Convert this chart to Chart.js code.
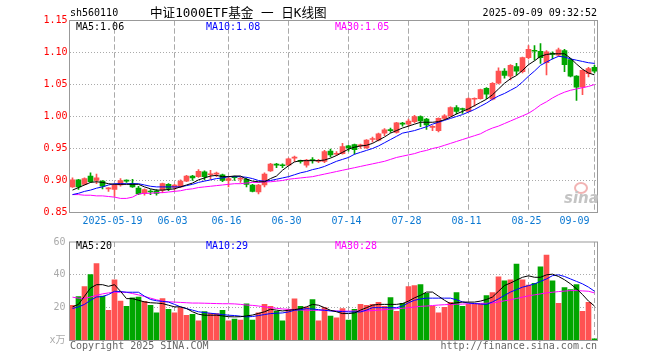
<!DOCTYPE html>
<html><head><meta charset="utf-8">
<script src="https://cdn.jsdelivr.net/npm/chart.js@4/dist/chart.umd.min.js"></script>
<style>
html,body{margin:0;padding:0;background:#fff;}
#wrap{position:relative;width:660px;height:360px;overflow:hidden;background:#fff;}
canvas{position:absolute;left:0;}
.t{position:absolute;white-space:pre;font-family:'DejaVu Sans Mono',monospace;font-size:10px;line-height:12px;}
</style></head><body>
<div id="wrap">
<canvas id="price" width="660" height="232" style="top:0"></canvas>
<canvas id="vol" width="660" height="128" style="top:232px"></canvas>
<div class="t" style="left:70px;top:7px;color:#000">sh560110</div>
<div class="t" style="left:150px;top:4px;font-family:'DejaVu Sans Mono','Noto Sans CJK SC',sans-serif;font-size:12.6px;line-height:17px;color:#000">中证1000ETF基金 一 日K线图</div>
<div class="t" style="right:63px;top:7px;color:#000">2025-09-09 09:32:52</div>
<div class="t" style="left:76px;top:21px;color:#000">MA5:1.06</div>
<div class="t" style="left:206px;top:21px;color:#0000ff">MA10:1.08</div>
<div class="t" style="left:335px;top:21px;color:#ff00ff">MA30:1.05</div>
<div class="t" style="left:76px;top:240px;color:#000">MA5:20</div>
<div class="t" style="left:206px;top:240px;color:#0000ff">MA10:29</div>
<div class="t" style="left:335px;top:240px;color:#ff00ff">MA30:28</div>
<div class="t" style="left:70px;top:340px;color:#666">Copyright 2025 SINA.COM</div>
<div class="t" style="right:63px;top:340px;color:#666">http://finance.sina.com.cn</div>
<div style="position:absolute;left:574px;top:182px;width:10px;height:8px;border-radius:50%;border:2px solid #f2b4b4;"></div>
<div class="t" style="left:564px;top:190px;font-family:'DejaVu Sans',sans-serif;font-style:italic;font-weight:bold;font-size:15px;line-height:16px;color:#c4c4c4">sina</div>
</div>
<script>
const dates = ['2025-05-08','2025-05-09','2025-05-12','2025-05-13','2025-05-14','2025-05-15','2025-05-16','2025-05-19','2025-05-20','2025-05-21','2025-05-22','2025-05-23','2025-05-26','2025-05-27','2025-05-28','2025-05-29','2025-05-30','2025-06-03','2025-06-04','2025-06-05','2025-06-06','2025-06-09','2025-06-10','2025-06-11','2025-06-12','2025-06-13','2025-06-16','2025-06-17','2025-06-18','2025-06-19','2025-06-20','2025-06-23','2025-06-24','2025-06-25','2025-06-26','2025-06-27','2025-06-30','2025-07-01','2025-07-02','2025-07-03','2025-07-04','2025-07-07','2025-07-08','2025-07-09','2025-07-10','2025-07-11','2025-07-14','2025-07-15','2025-07-16','2025-07-17','2025-07-18','2025-07-21','2025-07-22','2025-07-23','2025-07-24','2025-07-25','2025-07-28','2025-07-29','2025-07-30','2025-07-31','2025-08-01','2025-08-04','2025-08-05','2025-08-06','2025-08-07','2025-08-08','2025-08-11','2025-08-12','2025-08-13','2025-08-14','2025-08-15','2025-08-18','2025-08-19','2025-08-20','2025-08-21','2025-08-22','2025-08-25','2025-08-26','2025-08-27','2025-08-28','2025-08-29','2025-09-01','2025-09-02','2025-09-03','2025-09-04','2025-09-05','2025-09-08','2025-09-09'];

const opens  = [0.890,0.901,0.894,0.907,0.900,0.899,0.887,0.886,0.893,0.900,0.895,0.888,0.880,0.8825,0.884,0.885,0.894,0.889,0.890,0.899,0.907,0.906,0.9135,0.909,0.910,0.909,0.900,0.905,0.902,0.902,0.893,0.882,0.893,0.915,0.925,0.924,0.924,0.935,0.931,0.924,0.932,0.930,0.930,0.946,0.941,0.942,0.954,0.956,0.954,0.951,0.964,0.963,0.974,0.979,0.975,0.989,0.988,0.992,1.000,0.996,0.983,0.978,0.997,1.001,1.014,1.012,1.008,1.027,1.028,1.044,1.027,1.052,1.071,1.063,1.078,1.070,1.092,1.103,1.102,1.084,1.098,1.096,1.103,1.089,1.063,1.046,1.067,1.077];
const closes = [0.901,0.890,0.903,0.898,0.904,0.891,0.8875,0.893,0.900,0.899,0.890,0.879,0.886,0.882,0.880,0.895,0.8875,0.893,0.899,0.907,0.904,0.9145,0.906,0.910,0.911,0.900,0.903,0.9045,0.903,0.894,0.883,0.893,0.910,0.9255,0.924,0.923,0.934,0.936,0.930,0.932,0.931,0.931,0.945,0.940,0.942,0.953,0.951,0.948,0.955,0.963,0.965,0.973,0.979,0.978,0.990,0.988,0.993,1.000,0.993,0.987,0.984,0.997,1.001,1.014,1.008,1.011,1.028,1.028,1.042,1.035,1.052,1.071,1.064,1.080,1.071,1.092,1.105,1.102,1.092,1.101,1.097,1.104,1.081,1.063,1.046,1.072,1.075,1.071];
const highs  = [0.904,0.902,0.904,0.912,0.910,0.900,0.889,0.894,0.903,0.901,0.902,0.891,0.887,0.886,0.886,0.896,0.895,0.894,0.901,0.908,0.908,0.917,0.915,0.916,0.913,0.910,0.906,0.907,0.905,0.904,0.894,0.894,0.912,0.927,0.927,0.926,0.935,0.938,0.932,0.933,0.936,0.933,0.947,0.949,0.945,0.958,0.955,0.957,0.957,0.964,0.968,0.974,0.981,0.982,0.991,0.991,0.996,1.002,1.001,0.997,0.986,0.998,1.003,1.015,1.017,1.013,1.029,1.029,1.043,1.045,1.053,1.076,1.075,1.081,1.083,1.093,1.111,1.111,1.114,1.103,1.101,1.107,1.105,1.091,1.064,1.073,1.077,1.080];
const lows   = [0.889,0.886,0.893,0.897,0.895,0.887,0.883,0.875,0.891,0.897,0.889,0.878,0.877,0.878,0.877,0.881,0.884,0.885,0.889,0.898,0.900,0.905,0.901,0.902,0.906,0.898,0.890,0.900,0.897,0.890,0.882,0.879,0.890,0.914,0.920,0.920,0.923,0.930,0.927,0.921,0.927,0.928,0.928,0.937,0.939,0.941,0.946,0.941,0.950,0.950,0.960,0.962,0.970,0.975,0.974,0.985,0.985,0.990,0.984,0.980,0.978,0.976,0.995,1.000,1.004,1.005,1.007,1.016,1.027,1.028,1.026,1.051,1.060,1.057,1.065,1.068,1.090,1.088,1.083,1.065,1.090,1.094,1.070,1.062,1.025,1.034,1.062,1.068];

const ma5  = [0.885,0.889,0.893,0.897,0.898,0.897,0.895,0.894,0.894,0.894,0.894,0.894,0.890,0.887,0.885,0.885,0.886,0.887,0.890,0.893,0.896,0.901,0.904,0.907,0.908,0.906,0.906,0.907,0.907,0.902,0.899,0.898,0.898,0.903,0.907,0.916,0.923,0.929,0.931,0.931,0.931,0.931,0.932,0.935,0.939,0.944,0.949,0.952,0.954,0.955,0.958,0.963,0.968,0.974,0.978,0.982,0.985,0.988,0.991,0.991,0.991,0.992,0.995,0.999,1.004,1.008,1.012,1.017,1.022,1.027,1.034,1.043,1.052,1.059,1.064,1.072,1.081,1.087,1.094,1.097,1.098,1.098,1.098,1.091,1.082,1.074,1.068,1.065];
const ma10 = [0.878,0.880,0.883,0.885,0.888,0.890,0.893,0.895,0.895,0.895,0.895,0.895,0.893,0.891,0.890,0.890,0.890,0.890,0.890,0.892,0.894,0.897,0.899,0.901,0.903,0.904,0.906,0.906,0.906,0.905,0.903,0.900,0.899,0.900,0.902,0.904,0.906,0.909,0.912,0.914,0.917,0.919,0.922,0.926,0.930,0.933,0.936,0.941,0.944,0.947,0.950,0.954,0.959,0.964,0.969,0.974,0.976,0.978,0.981,0.984,0.988,0.991,0.994,0.997,1.000,1.003,1.007,1.011,1.016,1.021,1.027,1.032,1.036,1.041,1.046,1.054,1.063,1.071,1.080,1.085,1.090,1.094,1.093,1.090,1.088,1.086,1.084,1.083];
const ma30 = [0.878,0.878,0.877,0.877,0.876,0.876,0.875,0.874,0.872,0.872,0.874,0.879,0.880,0.880,0.881,0.881,0.882,0.883,0.884,0.886,0.887,0.889,0.890,0.891,0.892,0.893,0.894,0.895,0.895,0.896,0.897,0.897,0.898,0.898,0.899,0.900,0.902,0.903,0.904,0.905,0.906,0.908,0.910,0.912,0.914,0.916,0.918,0.920,0.922,0.924,0.926,0.928,0.930,0.933,0.936,0.938,0.940,0.942,0.945,0.947,0.950,0.952,0.955,0.958,0.961,0.964,0.967,0.970,0.973,0.978,0.982,0.985,0.989,0.993,0.997,1.001,1.005,1.011,1.018,1.023,1.029,1.034,1.038,1.041,1.043,1.045,1.047,1.050];

const volumes = [21.4,26.8,32.8,40.2,46.8,27,18.4,37,24,20.8,26,26.4,23.8,21.4,16.8,25.6,19,16.8,20,15.4,16,12,17.6,16.6,16.4,18.4,12,13,12.4,22.4,12.4,16.8,22,20.8,17.8,12,18.8,25.4,20.8,20.4,25,12,20,14.8,13.8,19.4,12.4,19,22,21.4,22,23.2,20.8,26.2,17.8,22.6,32.8,33.4,34,28.8,20.8,16.8,20.2,23.2,29.2,20.8,22,22,22,27.4,29.2,38.8,36.4,37,46.6,37,33.8,34.8,44.8,52,36.4,22.6,32.2,31,34,17.8,23.2,1];
const volMa5  = [20.5,22,27,32,34,34,33,34,30,25.5,25.5,24.5,23.5,23,22.8,22.5,21.5,20.5,20.5,19.5,17.5,16,15.4,15.4,15.4,15,14.5,14.4,14.5,15,15.5,16.5,17.5,19,18.5,18,18.4,18.8,19.4,20.5,22,21.5,20,18.4,17.5,16.4,16.4,16.8,18.5,20,21.5,22,22,22,22,22.5,24,26,27.5,29.5,29.5,27,24.5,22.4,23,23.4,23.4,23.4,24,25,26.5,30,33.5,35,36.8,38.5,39.4,38.5,38.5,40,40.4,39,37,34.5,31.5,28,24,21];
const volMa10 = [19.5,20.5,22,24.5,26.5,26.8,28,30,29.8,29.4,29.4,29.4,27,25,24.2,23.8,23.4,22,20.5,19.4,18.5,17.5,17,16.6,16.2,15.8,15.4,15.2,14.8,14.4,14.6,15.2,15.8,16.4,16.6,16.8,17.4,18.4,18.8,19.4,19.2,18.8,18.4,18,17.8,17.6,17.4,17.4,17.4,18.5,20,20,20,20,20,21,23,24.5,25.3,25.8,25.8,25.8,25.8,25.8,24.8,23.5,22.8,22.5,22.2,22,23.5,25.4,27.5,29.5,31,32.5,33.4,34.5,36,37.5,39.5,40,39,37.5,36,34.5,32.5,30];
const volMa30 = [26.4,25.8,25.6,26.5,27.5,28.4,29,29.4,29.4,29.4,28.6,27.8,26.8,25.8,24.8,24,23.6,23.4,23.2,23,22.8,22.8,22.7,22.6,22.5,22.4,22.4,22.3,22,21.6,21.4,21,20.5,20,19.6,19.2,19,18.8,18.6,18.4,18.4,18.4,18.4,18.2,18,17.9,17.9,18,18,18,18.2,18.5,18.8,19.1,19.4,19.6,20,20.4,20.8,21,21.3,21.6,21.8,22,22.1,22.2,22.4,22.5,22.6,22.7,22.8,23.5,24.2,24.8,25.6,26.4,27.2,27.8,28.4,29,29.4,29.8,30.1,30.4,30.4,30.2,30,29];

const tickDates = ['2025-05-19','2025-06-03','2025-06-16','2025-06-30','2025-07-14','2025-07-28','2025-08-11','2025-08-25','2025-09-09'];
const tickText  = ['2025-05-19','06-03','06-16','06-30','07-14','07-28','08-11','08-25','09-09      '];
const priceRange = [0.85, 1.15];
const volRange = [0, 60];

const UP = '#ff5252', DOWN = '#00a600';
const candleColors = closes.map((c, i) => c >= opens[i] ? UP : DOWN);
const bodies = opens.map((o, i) => [o, closes[i]]);
const wicks = lows.map((l, i) => [l, highs[i]]);

const MONO = "'DejaVu Sans Mono', 'Noto Sans CJK SC', monospace";
const labelAt = v => { const k = tickDates.indexOf(dates[v]); return k < 0 ? '' : tickText[k]; };
const keepDateTicks = axis => { axis.ticks = axis.ticks.filter(t => tickDates.includes(dates[t.value])); };

// vertical dashed date grid drawn as a library line dataset (one broken line through the tick dates)
const dateGrid = (lo, hi) => ({
  type: 'line',
  data: tickDates.flatMap(d => [{ x: d, y: hi }, { x: d, y: lo }, { x: d, y: null }]),
  borderColor: '#aaaaaa', borderWidth: 1, borderDash: [5, 3], pointRadius: 0, spanGaps: false, fill: false, order: 9
});

const framePlugin = {
  id: 'frame',
  afterDraw(chart) {
    const { ctx, chartArea: a } = chart;
    ctx.save();
    ctx.strokeStyle = '#999999';
    ctx.lineWidth = 1;
    ctx.strokeRect(a.left, a.top, a.right - a.left, a.bottom - a.top);
    ctx.restore();
  }
};

const lineDs = (data, color) => ({ type: 'line', data, borderColor: color, borderWidth: 1, pointRadius: 0, tension: 0, fill: false, order: 0 });

new Chart(document.getElementById('price'), {
  type: 'bar',
  data: {
    labels: dates,
    datasets: [
      lineDs(ma5, '#000000'),
      lineDs(ma10, '#0000ff'),
      lineDs(ma30, '#ff00ff'),
      { data: bodies, backgroundColor: candleColors, borderWidth: 0, barThickness: 5, minBarLength: 1, grouped: false, order: 1 },
      { data: wicks, backgroundColor: candleColors, borderWidth: 0, barThickness: 1, grouped: false, order: 2 },
      dateGrid(priceRange[0], priceRange[1])
    ]
  },
  options: {
    responsive: false, animation: false, devicePixelRatio: 1,
    layout: { padding: { top: 20.5, right: 62.5, left: 0, bottom: 0 } },
    plugins: { legend: { display: false }, tooltip: { enabled: false } },
    scales: {
      x: {
        type: 'category', offset: true,
        afterBuildTicks: keepDateTicks,
        grid: { offset: false, color: '#aaaaaa', lineWidth: 1, drawTicks: false },
        border: { display: false, dash: [5, 3] },
        ticks: { autoSkip: false, maxRotation: 0, minRotation: 0, padding: 3, labelOffset: -2, color: '#0a78d2', font: { family: MONO, size: 10 }, callback: v => labelAt(v) },
        afterFit: s => { s.height = 19.5; }
      },
      y: {
        min: priceRange[0], max: priceRange[1],
        grid: { color: c => (c.tick && c.tick.value > 0.851 && c.tick.value < 1.149) ? '#aaaaaa' : 'rgba(0,0,0,0)', drawTicks: false },
        border: { display: false, dash: [1, 2] },
        ticks: { stepSize: 0.05, padding: 2, color: '#ff0000', font: { family: MONO, size: 10 }, callback: v => Number(v).toFixed(2) },
        afterFit: s => { s.width = 69.5; }
      }
    }
  },
  plugins: [framePlugin]
});

new Chart(document.getElementById('vol'), {
  type: 'bar',
  data: {
    labels: dates,
    datasets: [
      lineDs(volMa5, '#000000'),
      lineDs(volMa10, '#0000ff'),
      lineDs(volMa30, '#ff00ff'),
      { data: volumes, backgroundColor: candleColors, borderWidth: 0, barThickness: 5, grouped: false, order: 1 },
      dateGrid(volRange[0], volRange[1])
    ]
  },
  options: {
    responsive: false, animation: false, devicePixelRatio: 1,
    layout: { padding: { top: 8.5, right: 62.5, left: 0, bottom: 0 } },
    plugins: { legend: { display: false }, tooltip: { enabled: false } },
    scales: {
      x: {
        type: 'category', offset: true,
        afterBuildTicks: keepDateTicks,
        grid: { offset: false, color: '#aaaaaa', lineWidth: 1, drawTicks: false },
        border: { display: false, dash: [5, 3] },
        ticks: { autoSkip: false, maxRotation: 0, minRotation: 0, color: 'rgba(0,0,0,0)', font: { family: MONO, size: 10 }, callback: v => labelAt(v) },
        afterFit: s => { s.height = 19.5; }
      },
      y: {
        min: volRange[0], max: volRange[1],
        grid: { color: c => (c.tick && c.tick.value > 0 && c.tick.value < 60) ? '#aaaaaa' : 'rgba(0,0,0,0)', drawTicks: false },
        border: { display: false, dash: [1, 2] },
        ticks: { stepSize: 20, padding: 4, color: '#aaaaaa', font: { family: MONO, size: 10 }, callback: v => v === 0 ? 'x万' : String(v) },
        afterFit: s => { s.width = 69.5; }
      }
    }
  },
  plugins: [framePlugin]
});
</script>
</body></html>
